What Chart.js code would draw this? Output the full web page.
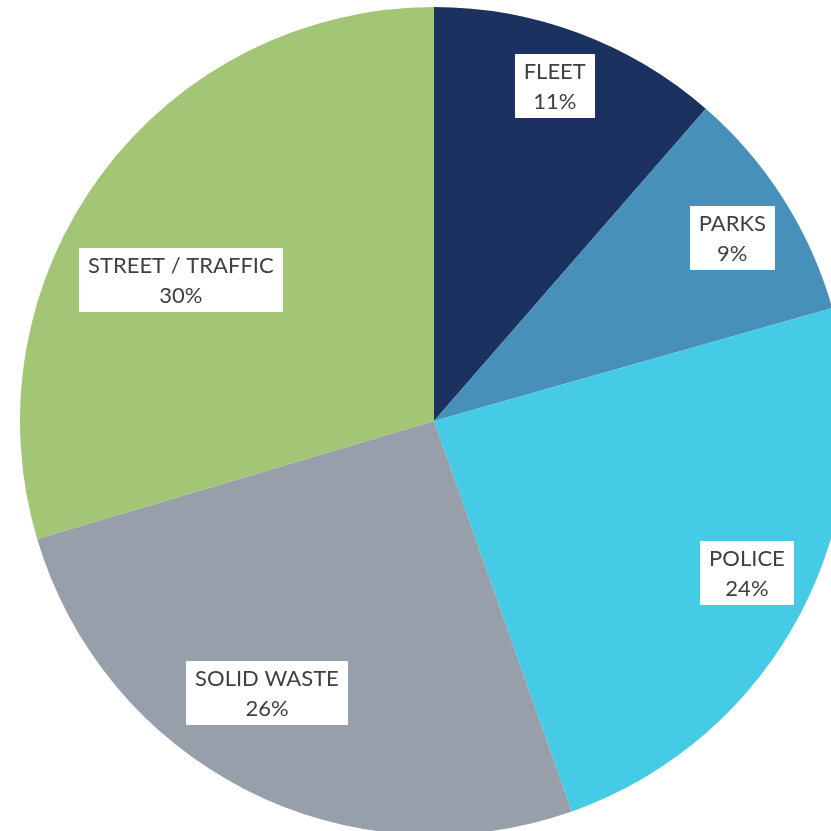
<!DOCTYPE html>
<html>
<head>
  <title>Department share</title>
  <script src="https://cdn.jsdelivr.net/npm/chart.js"></script>
  <style>
    body {
      margin: 0;
      width: 831px;
      height: 831px;
      overflow: hidden;
      background-color: #ffffff;
      position: relative;
    }
    .chart-box {
      position: absolute;
      left: 20px;
      top: 7px;
      width: 828px;
      height: 828px;
    }
  </style>
</head>
<body>
  <div class="chart-box">
    <canvas id="pieChart"></canvas>
  </div>

  <script>
    const categories = ['FLEET', 'PARKS', 'POLICE', 'SOLID WASTE', 'STREET / TRAFFIC'];
    const shares = [11.4, 9.2, 24.0, 25.8, 29.6];
    const percentLabels = ['11%', '9%', '24%', '26%', '30%'];
    const sliceColors = ['#1b3160', '#4690b9', '#45cbe6', '#97a0aa', '#a2c676'];

    // label placement: fraction of radius, and angle nudge in degrees
    const labelRadius = [0.86, 0.845, 0.84, 0.77, 0.70];
    const labelAngleShift = [-0.7, 0.9, -1.5, 4.6, -7.6];

    const boxLabels = {
      id: 'boxLabels',
      afterDatasetsDraw(chart) {
        const ctx = chart.ctx;
        const meta = chart.getDatasetMeta(0);
        ctx.save();
        ctx.font = '22px Lato, "Open Sans", sans-serif';
        ctx.textAlign = 'center';
        ctx.textBaseline = 'middle';
        meta.data.forEach((arc, i) => {
          const p = arc.getProps(['x', 'y', 'startAngle', 'endAngle', 'outerRadius'], true);
          const mid = (p.startAngle + p.endAngle) / 2 + labelAngleShift[i] * Math.PI / 180;
          const r = p.outerRadius * labelRadius[i];
          const cx = p.x + Math.cos(mid) * r;
          const cy = p.y + Math.sin(mid) * r;
          const lines = [categories[i], percentLabels[i]];
          const w = Math.max(...lines.map(t => ctx.measureText(t).width)) + 18;
          const h = 64;
          ctx.fillStyle = '#ffffff';
          ctx.fillRect(Math.round(cx - w / 2), Math.round(cy - h / 2), Math.round(w), h);
          ctx.fillStyle = '#404040';
          ctx.fillText(lines[0], cx, cy - 14);
          ctx.fillText(lines[1], cx, cy + 16);
        });
        ctx.restore();
      }
    };

    new Chart(document.getElementById('pieChart'), {
      type: 'pie',
      data: {
        labels: categories,
        datasets: [{
          data: shares,
          backgroundColor: sliceColors,
          borderWidth: 0
        }]
      },
      options: {
        responsive: true,
        maintainAspectRatio: false,
        animation: false,
        layout: { padding: 0 },
        plugins: {
          legend: { display: false },
          tooltip: { enabled: false }
        }
      },
      plugins: [boxLabels]
    });
  </script>
</body>
</html>
